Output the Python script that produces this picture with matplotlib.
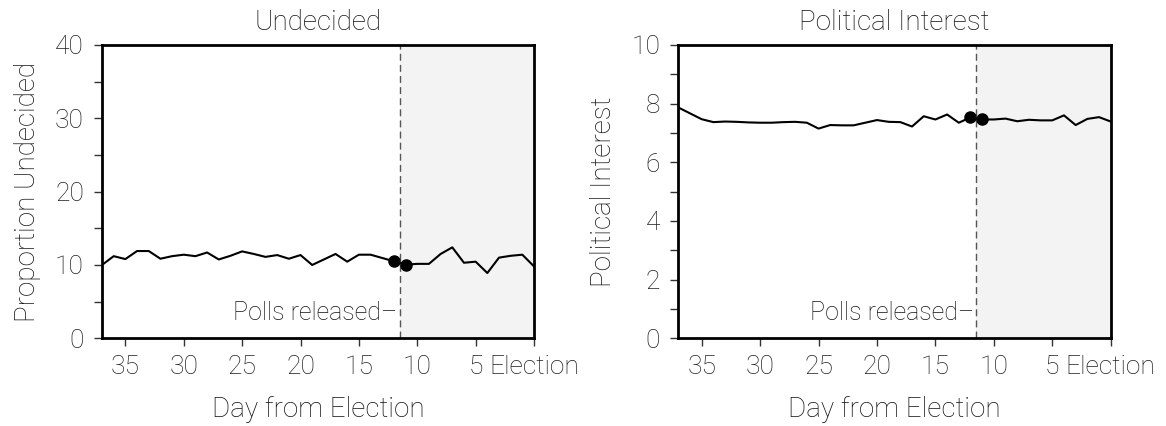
import numpy as np
import matplotlib.pyplot as plt
import matplotlib.transforms as mtransforms

plt.rcParams['font.family'] = ['Roboto', 'DejaVu Sans']
plt.rcParams['font.weight'] = 'light'
plt.rcParams['axes.titleweight'] = 'light'
plt.rcParams['axes.labelweight'] = 'light'

# dias ate a eleicao (37 -> 0)
days = list(range(37, -1, -1))

undecided = [10.0, 11.2, 10.8, 11.9, 11.9, 10.85, 11.2, 11.4, 11.2, 11.7,
             10.75, 11.25, 11.85, 11.5, 11.1, 11.35, 10.85, 11.35, 10.0, 10.75,
             11.5, 10.45, 11.4, 11.4, 10.95, 10.5, 10.05, 10.15, 10.15, 11.5,
             12.4, 10.3, 10.45, 8.9, 11.0, 11.25, 11.4, 9.8]

interest = [7.87, 7.67, 7.47, 7.37, 7.39, 7.38, 7.36, 7.35, 7.35, 7.37,
            7.38, 7.35, 7.15, 7.27, 7.26, 7.26, 7.35, 7.44, 7.38, 7.37,
            7.22, 7.57, 7.46, 7.63, 7.35, 7.53, 7.46, 7.46, 7.49, 7.40,
            7.45, 7.43, 7.43, 7.60, 7.27, 7.48, 7.54, 7.39]

poll_day = 11.5
dot_days = [12, 11]

x_ticks = [35, 30, 25, 20, 15, 10, 5, 0]
x_labels = ['35', '30', '25', '20', '15', '10', '5', 'Election']

panels = [
    dict(title='Undecided', ylabel='Proportion Undecided', values=undecided,
         ylim=(0, 40), major=[0, 10, 20, 30, 40], minor=[5, 15, 25, 35],
         rect=[0.0875, 0.2059, 0.3705, 0.6885]),
    dict(title='Political Interest', ylabel='Political Interest', values=interest,
         ylim=(0, 10), major=[0, 2, 4, 6, 8, 10], minor=[1, 3, 5, 7, 9],
         rect=[0.5817, 0.2059, 0.3709, 0.6885]),
]

fig = plt.figure(figsize=(11.66, 4.26), dpi=100)

for p in panels:
    ax = fig.add_axes(p['rect'])
    ax.axvspan(poll_day, 0, color='#f3f3f3', zorder=0, lw=0)
    ax.axvline(poll_day, color='#555555', lw=1, ls=(0, (5, 3)), zorder=1)
    ax.plot(days, p['values'], color='black', lw=1.5, zorder=2)
    dot_vals = [p['values'][days.index(d)] for d in dot_days]
    ax.plot(dot_days, dot_vals, 'o', color='black', ms=8, zorder=3)

    ax.set_xlim(37, 0)
    ax.set_ylim(*p['ylim'])
    ax.set_xticks(x_ticks)
    ax.set_xticklabels(x_labels)
    ax.set_yticks(p['major'])
    ax.set_yticks(p['minor'], minor=True)

    for s in ax.spines.values():
        s.set_linewidth(2)
        s.set_color('black')
    ax.tick_params(axis='both', which='both', direction='out', length=6,
                   width=1, color='#333333', labelsize=19, labelcolor='#1e1e1e')
    ax.tick_params(axis='x', pad=6)
    ax.tick_params(axis='y', pad=7)

    ax.set_title(p['title'], fontsize=20, pad=11, color='#111111')
    ax.set_xlabel('Day from Election', fontsize=20, labelpad=12, color='#111111')
    ax.set_ylabel(p['ylabel'], fontsize=20, labelpad=10, color='#111111')

    trans = mtransforms.blended_transform_factory(ax.transData, ax.transAxes)
    ax.text(poll_day + 0.2, 0.086, 'Polls released\u2013', transform=trans,
            ha='right', va='center', fontsize=18, color='#111111')

fig.savefig('out.png', dpi=100)
